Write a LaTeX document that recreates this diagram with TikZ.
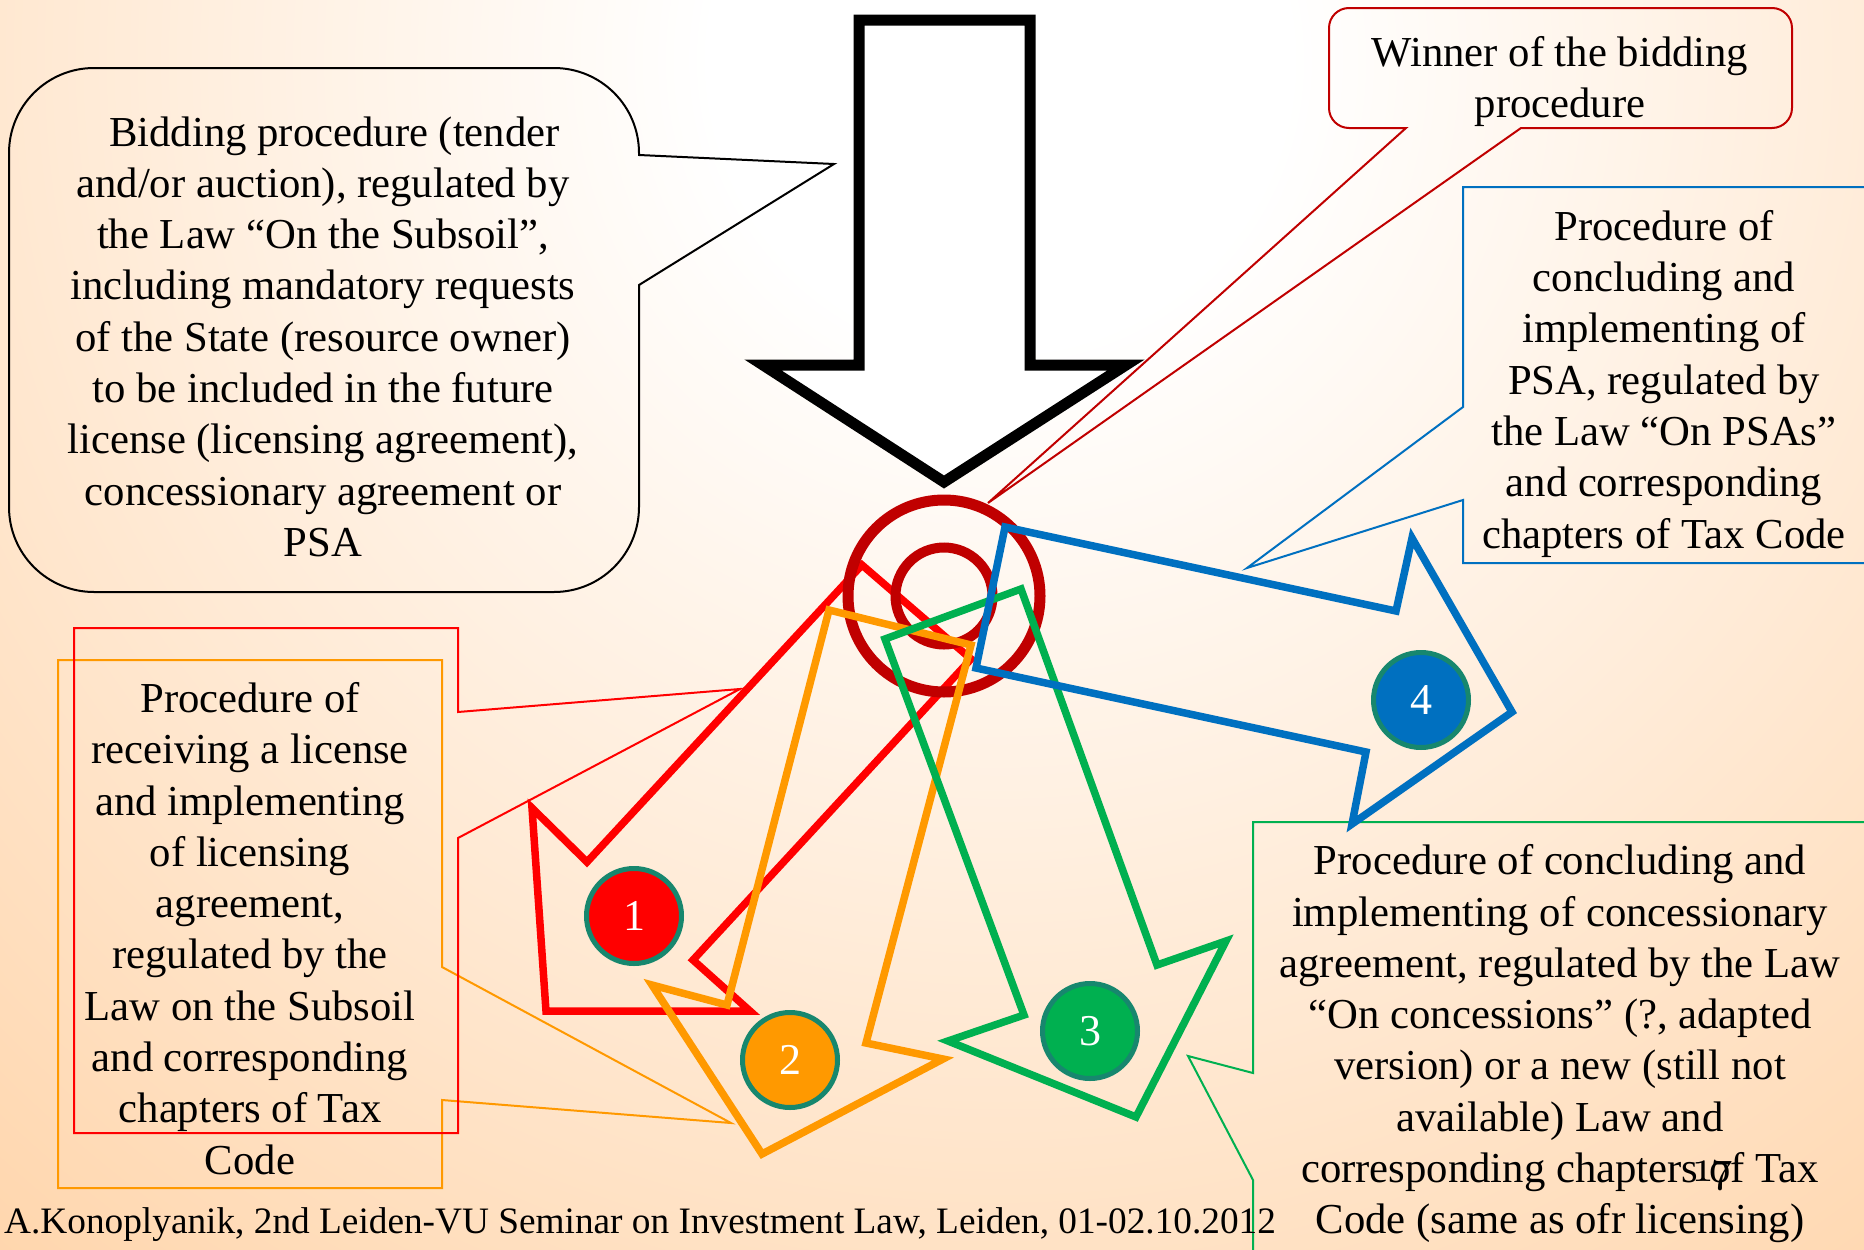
\documentclass[tikz,border=0pt]{standalone}
\usepackage{fontspec}
\setmainfont{Liberation Serif}
\newfontfamily\pgnumfont[Numbers=OldStyle]{lmroman10-regular.otf}
\definecolor{peach}{HTML}{FFCC99}
\definecolor{darkred}{HTML}{C00000}
\definecolor{pred}{HTML}{FF0000}
\definecolor{porange}{HTML}{FF9900}
\definecolor{pgreen}{HTML}{00B050}
\definecolor{pblue}{HTML}{0070C0}
\definecolor{pteal}{HTML}{17876E}
\pgfdeclareradialshading{bgrad}{\pgfpoint{0bp}{0bp}}{color(0bp)=(white); color(4bp)=(white); color(26bp)=(peach); color(50bp)=(peach)}
\tikzset{
  txt/.style={align=center, inner sep=0pt, font=\fontsize{42.7}{51.3}\selectfont},
  callout/.style={line width=2pt},
  bigarrow/.style={line width=7.5pt},
  numc/.style={circle, draw=pteal, line width=5pt, minimum size=95pt, inner sep=0pt, text=white, font=\fontsize{44}{44}\selectfont},
}
\begin{document}
\begin{tikzpicture}[x=1pt,y=-1pt,line join=miter]
\useasboundingbox (0,0) rectangle (1864,1250);
% background
\begin{scope}
\clip (0,0) rectangle (1864,1250);
\fill[peach] (0,0) rectangle (1864,1250);
\shade[shading=bgrad] (-800,-1740) rectangle (2800,1860);
\end{scope}
% big black arrow
\draw[line width=11pt, fill=white] (859,20) -- (1030,20) -- (1030,365) -- (1126,365) -- (944,482) -- (763,365) -- (859,365) -- cycle;
% bidding callout
\draw[callout, black] (9,153) arc[start angle=180,end angle=270,radius=85] -- (554,68) arc[start angle=270,end angle=360,radius=85] -- (639,155) -- (834,164) -- (639,285) -- (639,507) arc[start angle=0,end angle=90,radius=85] -- (94,592) arc[start angle=90,end angle=180,radius=85] -- cycle;
% winner callout
\coordinate (wintip) at (988,503);
\draw[callout, darkred] (1329,28) arc[start angle=180,end angle=270,radius=20] -- (1772,8) arc[start angle=270,end angle=360,radius=20] -- (1792,108) arc[start angle=0,end angle=90,radius=20] -- (1521,128) -- (wintip) -- (1406,128) -- (1349,128) arc[start angle=90,end angle=180,radius=20] -- cycle;
% PSA callout
\draw[callout, pblue] (1870,187) -- (1463,187) -- (1463,407) -- (1247,568) -- (1463,500) -- (1463,563) -- (1870,563);
% orange callout
\draw[callout, porange] (58,660) -- (442,660) -- (442,967) -- (731,1123) -- (442,1100) -- (442,1188) -- (58,1188) -- cycle;
% red license callout
\draw[callout, pred] (74,628) -- (458,628) -- (458,712) -- (740,689) -- (458,838) -- (458,1133) -- (74,1133) -- cycle;
% green concession callout
\draw[callout, pgreen] (1870,822) -- (1253,822) -- (1253,1073) -- (1188,1056) -- (1253,1180) -- (1253,1260);
% red arrow 1
\draw[bigarrow, pred] (862,565) -- (971,659) -- (693,960) -- (750,1011) -- (546,1011) -- (532,808) -- (587,862) -- cycle;
% rings
\draw[darkred, line width=11pt] (944,596) circle[radius=96];
\draw[darkred, line width=10pt] (944,596) circle[radius=48.5];
% orange arrow 2
\draw[bigarrow, porange] (829,610) -- (971,645) -- (866,1043) -- (943,1059) -- (762,1154) -- (652,985) -- (727,1005) -- cycle;
% green arrow 3
\draw[bigarrow, pgreen] (885,639) -- (1021,589) -- (1157,965) -- (1226,941) -- (1136,1117) -- (948,1041) -- (1024,1015) -- cycle;
% blue arrow 4
\draw[bigarrow, pblue] (1005,527) -- (1396,611) -- (1412,538) -- (1512,712) -- (1352,824) -- (1366,752) -- (976,668) -- cycle;
% number circles
\node[numc, fill=pred] (n1) at (634,916) {1};
\node[numc, fill=porange] (n2) at (790,1060) {2};
\node[numc, fill=pgreen] (n3) at (1090,1031) {3};
\node[numc, fill=pblue] (n4) at (1421,700) {4};
% texts
\node[txt] (bidtext) at (323,341) {\strut\hspace*{23pt}Bidding procedure (tender\\and/or auction), regulated by\\the Law “On the Subsoil”,\\including mandatory requests\\of the State (resource owner)\\to be included in the future\\license (licensing agreement),\\concessionary agreement or\\PSA\strut};
\node[txt] (wintext) at (1560,82) {\strut Winner of the bidding\\procedure\strut};
\node[txt] (psatext) at (1664,384) {\strut Procedure of\\concluding and\\implementing of\\PSA, regulated by\\the Law “On PSAs”\\and corresponding\\chapters of Tax Code\strut};
\node[txt] (lictext) at (250,933) {\strut Procedure of\\receiving a license\\and implementing\\of licensing\\agreement,\\regulated by the\\Law on the Subsoil\\and corresponding\\chapters of Tax\\Code\strut};
\node[txt] (context) at (1560,1044) {\strut Procedure of concluding and\\implementing of concessionary\\agreement, regulated by the Law\\“On concessions” (?, adapted\\version) or a new (still not\\available) Law and\\corresponding chapters of Tax\\Code (same as ofr licensing)\strut};
\node[anchor=base west, inner sep=0pt, font=\fontsize{37.3}{44}\selectfont] (footer) at (4,1233) {A.Konoplyanik, 2nd Leiden-VU Seminar on Investment Law, Leiden, 01-02.10.2012};
\node[anchor=base, inner sep=0pt, font=\pgnumfont\fontsize{44}{44}\selectfont] (pagenum) at (1714,1181) {17};
\end{tikzpicture}
\end{document}
